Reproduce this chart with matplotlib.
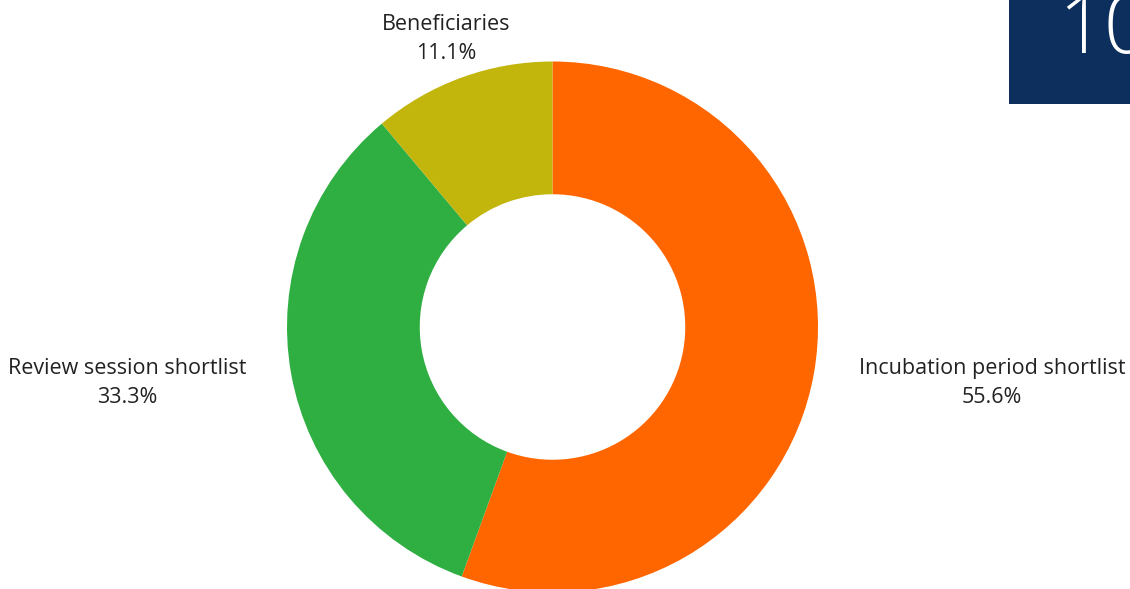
import matplotlib
matplotlib.use("Agg")
import matplotlib.pyplot as plt
from matplotlib.patches import Rectangle

categories = ["Incubation period shortlist", "Review session shortlist", "Beneficiaries"]
values = [5, 3, 1]
colors = ["#FF6600", "#2FAE41", "#C2B50C"]
# label anchor positions in pixel coords (x, y from top)
label_pos = [(992, 383), (127, 383), (446, 39)]

W, H = 1130, 589
fig = plt.figure(figsize=(W / 100, H / 100), dpi=100)
ax = fig.add_axes([0, 0, 1, 1])

cx, cy, R = 552.5, H - 327, 265.5
ax.pie(values, colors=colors, startangle=90, counterclock=False,
       center=(cx, cy), radius=R,
       wedgeprops=dict(width=R * 0.5, linewidth=0))
ax.set_xlim(0, W)
ax.set_ylim(0, H)
ax.set_aspect("equal")
ax.axis("off")

total = sum(values)
for cat, v, (px, py) in zip(categories, values, label_pos):
    ax.text(px, H - py, f"{cat}\n{100 * v / total:.1f}%", ha="center", va="center",
            fontsize=15.5, color="#222222", family=["Open Sans", "DejaVu Sans"],
            linespacing=1.5)

# decorative navy box top-right
ax.add_patch(Rectangle((1009, H - 104), 130, 110, facecolor="#0C2F5E", edgecolor="none", clip_on=True))
ax.text(1058, H - 53, "10", ha="left", va="baseline", fontsize=58, color="white",
        family=["Open Sans", "DejaVu Sans"], fontweight="light", clip_on=True)

fig.savefig("out.png", dpi=100)
